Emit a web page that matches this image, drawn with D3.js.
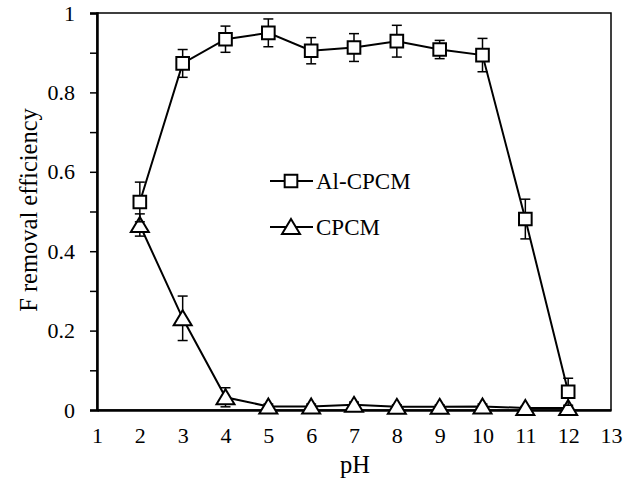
<!DOCTYPE html>
<html>
<head>
<meta charset="utf-8">
<script src="https://cdn.jsdelivr.net/npm/d3@7"></script>
<style>
  body { margin: 0; background: #fff; }
</style>
</head>
<body>
<svg id="chart" width="635" height="483"></svg>
<script>
var pH = [2, 3, 4, 5, 6, 7, 8, 9, 10, 11, 12];
var alCpcm = [0.524, 0.873, 0.934, 0.950, 0.905, 0.913, 0.929, 0.908, 0.894, 0.481, 0.046];
var alCpcmErr = [0.05, 0.035, 0.033, 0.035, 0.033, 0.035, 0.04, 0.023, 0.042, 0.05, 0.034];
var cpcm = [0.466, 0.231, 0.032, 0.009, 0.009, 0.013, 0.008, 0.008, 0.009, 0.005, 0.005];
var cpcmErr = [0.028, 0.056, 0.024, 0.006, 0.006, 0.007, 0.005, 0.005, 0.006, 0.004, 0.004];
var xTicks = [1, 2, 3, 4, 5, 6, 7, 8, 9, 10, 11, 12, 13];
var yTicks = [0, 0.2, 0.4, 0.6, 0.8, 1];
var yMinorTicks = [0.1, 0.3, 0.5, 0.7, 0.9];

var serif = "Liberation Serif";

var svg = d3.select("#chart");
var margin = { top: 13, left: 97, right: 24, bottom: 73 };
var width = 635 - margin.left - margin.right;
var height = 483 - margin.top - margin.bottom;

var x = d3.scaleLinear().domain([1, 13]).range([0, width]);
var y = d3.scaleLinear().domain([0, 1]).range([height, 0]);

var g = svg.append("g").attr("transform", "translate(" + margin.left + "," + margin.top + ")");

// frame
g.append("rect")
    .attr("width", width).attr("height", height)
    .attr("fill", "none").attr("stroke", "#000").attr("stroke-width", 1.5);

// y axis
var yAxis = g.append("g").call(d3.axisLeft(y).tickValues(yTicks.concat(yMinorTicks))
    .tickSize(7).tickPadding(15)
    .tickFormat(function(d) { return yMinorTicks.indexOf(d) >= 0 ? "" : d3.format("")(+d.toFixed(1)); }));
yAxis.select(".domain").attr("stroke-width", 2.5);
yAxis.selectAll(".tick line").attr("stroke-width", 1.5);
yAxis.selectAll("text").style("font-family", serif).style("font-size", "22px").attr("fill", "#000");

// x axis
var xAxis = g.append("g").attr("transform", "translate(0," + height + ")")
    .call(d3.axisBottom(x).tickValues(xTicks).tickSize(0).tickPadding(17).tickFormat(d3.format("d")));
xAxis.select(".domain").attr("stroke-width", 2.5);
xAxis.selectAll("text").style("font-family", serif).style("font-size", "22px").attr("fill", "#000");

// axis titles
svg.append("text")
    .attr("x", margin.left + x(7) + 1).attr("y", 473)
    .attr("text-anchor", "middle")
    .style("font-family", serif).style("font-size", "24.5px")
    .text("pH");
svg.append("text")
    .attr("transform", "translate(37,210) rotate(-90)")
    .attr("text-anchor", "middle")
    .style("font-family", serif).style("font-size", "24.5px")
    .text("F removal efficiency");

var line = d3.line().x(function(d) { return x(d[0]); }).y(function(d) { return y(d[1]); });
var square = d3.symbol().type(d3.symbolSquare).size(160);
var triangle = "M0,-8L9,7L-9,7Z";

function drawSeries(vals, errs, isSquare) {
    var pts = pH.map(function(p, i) { return [p, vals[i], errs[i]]; });
    g.append("path").datum(pts).attr("d", line)
        .attr("fill", "none").attr("stroke", "#000").attr("stroke-width", 2);
    var eb = g.append("g").attr("stroke", "#000").attr("stroke-width", 1.5);
    pts.forEach(function(d) {
        var cx = x(d[0]), y0 = y(d[1] - d[2]), y1 = y(d[1] + d[2]);
        eb.append("line").attr("x1", cx).attr("x2", cx).attr("y1", y0).attr("y2", y1);
        eb.append("line").attr("x1", cx - 5).attr("x2", cx + 5).attr("y1", y0).attr("y2", y0);
        eb.append("line").attr("x1", cx - 5).attr("x2", cx + 5).attr("y1", y1).attr("y2", y1);
    });
    g.append("g").selectAll("path").data(pts).enter().append("path")
        .attr("d", isSquare ? square : triangle)
        .attr("transform", function(d) { return "translate(" + x(d[0]) + "," + y(d[1]) + ")"; })
        .attr("fill", "#fff").attr("stroke", "#000").attr("stroke-width", 2);
}

drawSeries(cpcm, cpcmErr, false);
drawSeries(alCpcm, alCpcmErr, true);

// legend
var legend = svg.append("g");
var legendItems = [["Al-CPCM", true, 181], ["CPCM", false, 227]];
legendItems.forEach(function(l) {
    var ly = l[2];
    legend.append("line").attr("x1", 270).attr("x2", 313).attr("y1", ly).attr("y2", ly)
        .attr("stroke", "#000").attr("stroke-width", 2);
    legend.append("path").attr("d", l[1] ? square : triangle)
        .attr("transform", "translate(291," + ly + ")")
        .attr("fill", "#fff").attr("stroke", "#000").attr("stroke-width", 2);
    legend.append("text").attr("x", 316).attr("y", ly + 8)
        .style("font-family", serif).style("font-size", "23px").text(l[0]);
});
</script>
</body>
</html>
